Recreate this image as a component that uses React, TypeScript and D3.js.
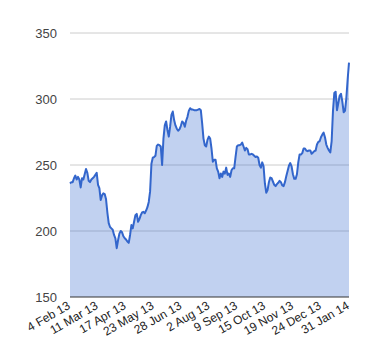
import React from "react";
import * as d3 from "d3";

// daily closes
const prices: number[] = [
  236, 237, 237, 240, 242, 239, 241, 239, 233, 240, 239, 243, 247, 244, 238, 237, 239, 240, 241, 242.5,
  244, 235, 232.5, 223.5, 227, 228.5, 228, 224, 214, 206, 203, 202, 201, 197, 194.5, 187, 193, 198, 200, 199,
  196, 194.5, 193.5, 192, 191, 197, 204.5, 202, 207, 212, 213, 207, 209, 212, 214, 214.5, 213.5, 215.5, 218, 222,
  230, 251, 255.5, 256, 257, 264.5, 265.5, 265, 264, 250, 270, 280, 283, 276.5, 271.5, 279, 288, 290.5, 284, 280,
  277.5, 276, 277, 279.5, 283, 282, 279, 283.5, 286.5, 291, 293, 292, 292, 291.5, 291.5, 291.5, 292, 292.5, 291.5, 281.5,
  270, 265, 264, 269, 271.5, 270, 262.5, 252.5, 254, 254, 247.5, 245, 240, 243.5, 241, 245, 243.5, 248, 242.5, 243.5,
  241, 246, 247.5, 247.5, 256, 264, 265, 265, 265.5, 267, 264, 261, 263, 262, 258, 258, 258.5, 258, 257, 256,
  256.5, 255.5, 250, 248, 252, 249, 236, 229, 231, 237, 240.5, 240, 237.5, 235, 234, 235.5, 236.5, 238, 237, 234.5,
  234, 237, 241.5, 245.5, 249.5, 251.5, 249, 243, 239.5, 239.5, 243, 252, 258, 258, 259, 262.5, 262.5, 261, 260.5, 261,
  261, 258.5, 259.5, 260.5, 261, 265.5, 267.5, 268, 271, 273, 274.5, 271, 265.5, 263, 261, 259.5, 268, 291, 304.5, 305.5,
  291.5, 297, 302.5, 304, 298, 290, 291, 300.5, 315, 327.5,
];

const dateLabels: string[] = [
  "4 Feb 13", "11 Mar 13", "17 Apr 13", "23 May 13", "28 Jun 13", "2 Aug 13",
  "9 Sep 13", "15 Oct 13", "19 Nov 13", "24 Dec 13", "31 Jan 14",
];

const yTicks: number[] = [150, 200, 250, 300, 350];

const width = 380;
const height = 360;
const left = 70;
const right = 349;
const top = 33;
const bottom = 297;

export default function App() {
  const x = d3.scaleLinear().domain([0, prices.length - 1]).range([left, right]);
  const y = d3.scaleLinear().domain([150, 350]).range([bottom, top]);

  const area = d3
    .area<number>()
    .x((_, i) => x(i))
    .y0(y(150))
    .y1((d) => y(d));

  const line = d3
    .line<number>()
    .x((_, i) => x(i))
    .y((d) => y(d));

  const step = (prices.length - 1) / (dateLabels.length - 1);

  return (
    <svg
      width={width}
      height={height}
      style={{ position: "absolute", left: 0, top: 0, background: "#fff" }}
      fontFamily="Arial, 'Liberation Sans', sans-serif"
    >
      {/* gridlines */}
      {yTicks.slice(1).map((t) => (
        <line key={t} x1={left} x2={right} y1={y(t)} y2={y(t)} stroke="#cccccc" strokeWidth={1} />
      ))}

      <path d={area(prices) || ""} fill="#3366cc" fillOpacity={0.3} />
      <path d={line(prices) || ""} fill="none" stroke="#3366cc" strokeWidth={2} strokeLinejoin="round" />

      {/* baseline */}
      <line x1={left} x2={right} y1={y(150)} y2={y(150)} stroke="#333333" strokeWidth={1} />

      {yTicks.map((t) => (
        <text key={t} x={57} y={y(t)} dy="0.36em" textAnchor="end" fontSize={13} fill="#444444">
          {t}
        </text>
      ))}

      {dateLabels.map((lab, i) => (
        <text
          key={lab}
          transform={`translate(${x(i * step) + 1}, ${bottom + 11}) rotate(-30)`}
          textAnchor="end"
          fontSize={12}
          fill="#222222"
        >
          {lab}
        </text>
      ))}
    </svg>
  );
}
